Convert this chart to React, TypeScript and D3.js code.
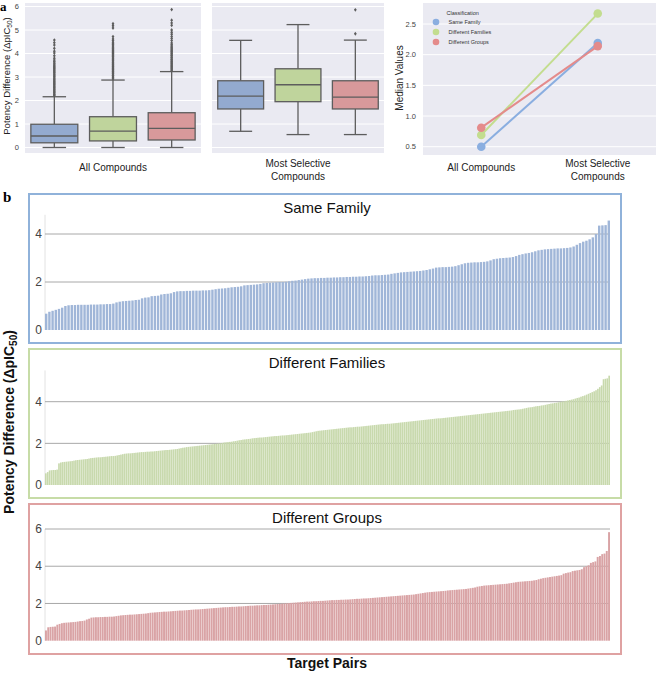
import React from 'react';
import * as d3 from 'd3';

const classes = ['Same Family', 'Different Families', 'Different Groups'];
const compoundSets = ['All Compounds', 'Most Selective Compounds'];

// [lower whisker, Q1, median, Q3, upper whisker]
const statsAllSame = [0, 0.2, 0.49, 0.99, 2.16];
const statsAllFamilies = [0, 0.28, 0.7, 1.31, 2.87];
const statsAllGroups = [0, 0.32, 0.81, 1.48, 3.23];
const statsSelSame = [0.69, 1.64, 2.19, 2.84, 4.56];
const statsSelFamilies = [0.55, 1.95, 2.67, 3.35, 5.23];
const statsSelGroups = [0.55, 1.64, 2.14, 2.84, 4.57];

const fliersAllSame = [2.2, 2.24, 2.28, 2.33, 2.37, 2.41, 2.46, 2.5, 2.55, 2.59, 2.63, 2.68, 2.72, 2.77, 2.81, 2.86, 2.9, 2.95, 3.0, 3.04, 3.09, 3.13, 3.18, 3.22, 3.27, 3.31, 3.36, 3.4, 3.45, 3.5, 3.55, 3.6, 3.66, 3.72, 3.8, 3.9, 4.02, 4.1, 4.22, 4.36, 4.46, 4.57];
const fliersAllFamilies = [2.92, 2.96, 3.0, 3.05, 3.09, 3.14, 3.18, 3.23, 3.27, 3.32, 3.36, 3.41, 3.45, 3.5, 3.54, 3.59, 3.63, 3.68, 3.72, 3.77, 3.81, 3.86, 3.9, 3.95, 4.0, 4.04, 4.09, 4.13, 4.18, 4.22, 4.27, 4.32, 4.37, 4.42, 4.48, 4.55, 4.62, 4.72, 5.08, 5.18, 5.27];
const fliersAllGroups = [3.27, 3.31, 3.36, 3.4, 3.45, 3.49, 3.54, 3.58, 3.63, 3.67, 3.72, 3.76, 3.81, 3.85, 3.9, 3.94, 3.99, 4.03, 4.08, 4.12, 4.17, 4.22, 4.27, 4.32, 4.38, 4.45, 4.55, 4.64, 4.72, 4.82, 4.9, 5.0, 5.2, 5.3, 5.42, 5.87];
const fliersSelSame: number[] = [];
const fliersSelFamilies: number[] = [];
const fliersSelGroups = [4.84, 5.86];

const medianAll = [0.5, 0.69, 0.81];
const medianSelective = [2.19, 2.67, 2.14];

const boxTicks = [0, 1, 2, 3, 4, 5, 6];
const medianTicks = [0.5, 1.0, 1.5, 2.0, 2.5];

const sameFamily = [
  0.68, 0.76, 0.8, 0.84, 0.88, 0.93, 1.0,
  1.03, 1.04, 1.04, 1.05, 1.05, 1.05, 1.05, 1.06, 1.06, 1.06, 1.07, 1.07, 1.08, 1.08, 1.1,
  1.15, 1.18,
  1.2, 1.21, 1.22, 1.23, 1.25, 1.26,
  1.32, 1.35, 1.36,
  1.41, 1.42, 1.43,
  1.48, 1.5, 1.51, 1.53,
  1.58, 1.61, 1.62, 1.62, 1.63, 1.63, 1.64, 1.64, 1.64, 1.65, 1.65, 1.66,
  1.68, 1.7,
  1.72, 1.73, 1.74, 1.76,
  1.78, 1.79, 1.8, 1.82,
  1.86, 1.87, 1.88, 1.89, 1.9, 1.92,
  1.95, 1.96, 1.97, 1.98, 1.99, 2.0, 2.0, 2.01,
  2.03, 2.05, 2.06,
  2.08, 2.1, 2.12,
  2.14, 2.15, 2.16, 2.16, 2.17, 2.17, 2.18,
  2.18, 2.19, 2.19, 2.2, 2.2, 2.21, 2.21, 2.22, 2.22, 2.23, 2.23, 2.24, 2.25,
  2.27, 2.28, 2.28, 2.29, 2.3, 2.31,
  2.34, 2.36, 2.38, 2.4, 2.41, 2.42, 2.43, 2.44, 2.45, 2.46, 2.48, 2.5,
  2.53, 2.56,
  2.6, 2.61, 2.62, 2.62, 2.63, 2.64, 2.66, 2.7, 2.74,
  2.78, 2.8, 2.81, 2.82, 2.82, 2.83, 2.84, 2.86, 2.9,
  2.95, 2.97, 2.99, 3.0, 3.01, 3.02, 3.04, 3.08,
  3.13, 3.16, 3.19, 3.21, 3.24, 3.28,
  3.32, 3.34, 3.36, 3.37, 3.38, 3.39, 3.4, 3.4, 3.41, 3.42, 3.44, 3.48,
  3.55, 3.62, 3.68, 3.72, 3.78, 3.86,
  4.0,
  4.35, 4.36, 4.37,
  4.56,
];

const differentFamilies = [
  0.56, 0.62,
  0.7, 0.71, 0.72, 0.72, 0.74,
  1.04, 1.08, 1.1, 1.11, 1.12, 1.13, 1.14, 1.15, 1.17,
  1.19, 1.2, 1.21, 1.22, 1.23, 1.24, 1.25, 1.27,
  1.29, 1.3, 1.31, 1.32, 1.33, 1.33, 1.34, 1.35,
  1.36, 1.37, 1.38, 1.39, 1.39, 1.4, 1.42,
  1.44, 1.46, 1.48, 1.5, 1.51, 1.52, 1.52, 1.53, 1.54, 1.55, 1.56, 1.57,
  1.58, 1.58, 1.59, 1.6, 1.6, 1.61, 1.61, 1.62, 1.63, 1.64, 1.65,
  1.66, 1.67, 1.68, 1.68, 1.69, 1.7, 1.71, 1.72, 1.73, 1.75, 1.77,
  1.79, 1.8, 1.82, 1.83, 1.84, 1.85, 1.86, 1.87, 1.88, 1.89, 1.9,
  1.91, 1.92, 1.93, 1.94, 1.95, 1.96, 1.97, 1.98, 1.99, 2.0, 2.02,
  2.04, 2.05, 2.06, 2.07, 2.08, 2.1, 2.11, 2.13,
  2.15, 2.16, 2.18, 2.19, 2.2, 2.21, 2.22, 2.24,
  2.25, 2.26, 2.27, 2.28, 2.28, 2.29, 2.3, 2.31,
  2.32, 2.33, 2.34, 2.35, 2.35, 2.36, 2.37, 2.38, 2.38, 2.39, 2.4, 2.41, 2.42,
  2.43, 2.44, 2.45, 2.46, 2.47, 2.48, 2.49, 2.5, 2.51, 2.52, 2.54,
  2.56, 2.58, 2.6, 2.61, 2.62, 2.63, 2.64, 2.65, 2.66, 2.67, 2.68, 2.69, 2.7,
  2.71, 2.72, 2.73, 2.74, 2.75, 2.76, 2.77, 2.77, 2.78, 2.79, 2.8, 2.8, 2.81, 2.82, 2.83, 2.84, 2.85, 2.86, 2.87,
  2.88, 2.89, 2.9, 2.91, 2.92, 2.92, 2.93, 2.94, 2.94, 2.95, 2.96, 2.97, 2.98, 2.99, 3.0, 3.01,
  3.02, 3.03, 3.04, 3.05, 3.06, 3.07, 3.08, 3.09, 3.1, 3.11, 3.12, 3.13, 3.14, 3.15, 3.16, 3.17,
  3.18, 3.19, 3.2, 3.2, 3.21, 3.22, 3.23, 3.24, 3.25, 3.26, 3.27, 3.28, 3.29, 3.3, 3.31, 3.32,
  3.33, 3.34, 3.35, 3.36, 3.37, 3.38, 3.39, 3.4, 3.41, 3.42, 3.43, 3.44, 3.45, 3.46, 3.47, 3.48,
  3.49, 3.5, 3.51, 3.52, 3.53, 3.54, 3.55, 3.56, 3.57, 3.58, 3.6, 3.61, 3.62, 3.63, 3.64, 3.66,
  3.68, 3.7, 3.72, 3.73, 3.74, 3.76, 3.78, 3.79, 3.8, 3.82, 3.83, 3.85, 3.87,
  3.89, 3.91, 3.92, 3.94, 3.95, 3.97, 3.99, 4.01,
  4.02, 4.04, 4.06, 4.08, 4.1, 4.12, 4.15, 4.18,
  4.2, 4.24, 4.27, 4.3, 4.34,
  4.38, 4.42, 4.46, 4.5, 4.55,
  4.62, 4.7, 4.78,
  5.08, 5.1, 5.12,
  5.25,
];

const differentGroups = [
  0.55,
  0.72, 0.74, 0.75, 0.76,
  0.86, 0.9,
  0.94, 0.96, 0.97, 0.98, 0.99, 1.0, 1.01,
  1.03, 1.05, 1.06, 1.08,
  1.14, 1.18,
  1.24, 1.25, 1.26, 1.26, 1.27, 1.27, 1.28, 1.28, 1.29, 1.29, 1.3,
  1.32, 1.34,
  1.36, 1.37, 1.38, 1.39, 1.4, 1.4, 1.41, 1.42, 1.43, 1.44, 1.45, 1.46, 1.48,
  1.5, 1.51, 1.52, 1.53, 1.54, 1.55, 1.56, 1.56, 1.57,
  1.58, 1.59, 1.6, 1.61, 1.62, 1.62, 1.63,
  1.64, 1.65, 1.66, 1.67, 1.68, 1.68, 1.69, 1.7, 1.71, 1.72, 1.73, 1.74, 1.75, 1.76, 1.77,
  1.78, 1.79, 1.8, 1.8, 1.81, 1.82, 1.82, 1.83, 1.84, 1.84, 1.85, 1.86, 1.87,
  1.88, 1.88, 1.89, 1.9, 1.9, 1.91, 1.92, 1.92, 1.93,
  1.94, 1.95, 1.96, 1.97, 1.98, 1.99, 2.0, 2.01, 2.02, 2.03, 2.04, 2.05, 2.06,
  2.07, 2.08, 2.09, 2.1, 2.1, 2.11, 2.12, 2.12, 2.13, 2.14, 2.14, 2.15, 2.16,
  2.17, 2.18, 2.18, 2.19, 2.19, 2.2, 2.2, 2.21, 2.21, 2.22, 2.23,
  2.24, 2.25, 2.25, 2.26, 2.27, 2.27, 2.28, 2.29, 2.3, 2.31, 2.32, 2.33, 2.34, 2.35, 2.36, 2.37,
  2.38, 2.39, 2.4, 2.41, 2.42, 2.43, 2.44, 2.45, 2.46, 2.47, 2.48, 2.5, 2.52, 2.54, 2.56, 2.58,
  2.6, 2.61, 2.62, 2.63, 2.64, 2.65, 2.66, 2.67, 2.68,
  2.7, 2.71, 2.72, 2.73, 2.74, 2.75, 2.76, 2.77, 2.78, 2.8, 2.82, 2.84, 2.86,
  2.9, 2.92, 2.94, 2.96, 2.97, 2.98, 2.99, 3.0, 3.01, 3.02, 3.03, 3.04, 3.05, 3.06, 3.08, 3.1,
  3.12, 3.14, 3.16, 3.17, 3.18, 3.19, 3.2, 3.21, 3.22, 3.24, 3.26,
  3.3, 3.33, 3.36, 3.38, 3.4, 3.42, 3.44, 3.46, 3.48, 3.5, 3.52,
  3.6, 3.63, 3.66, 3.68,
  3.74, 3.76, 3.78, 3.8, 3.84,
  3.95, 4.0, 4.05,
  4.18, 4.22, 4.26,
  4.5, 4.55,
  4.65, 4.68,
  4.82,
  5.83,
];

const groupTicksLow = [0, 2, 4];
const groupTicksHigh = [0, 2, 4, 6];

// styles
const boxFill = ['#93aacf', '#bfd49c', '#d8999b'];
const pointColor = ['#8aaee0', '#c3dd8f', '#e48b8b'];
const barFill = ['#a0b6d8', '#c8d9ad', '#d9a3a5'];
const barPad = [0.25, 0.12, 0.15];
const borderColor = ['#90b2da', '#c7dca7', '#dfa2a2'];
const darkBg = '#eaeaf2';
const boxLine = '#5d5d5d';
const sansFont = 'Arial, "Liberation Sans", Helvetica, sans-serif';
const serifFont = '"Times New Roman", "Liberation Serif", serif';

type BoxProps = { cx: number; w: number; s: number[]; fliers: number[]; fill: string; y: d3.ScaleLinear<number, number> };

function BoxGlyph({ cx, w, s, fliers, fill, y }: BoxProps) {
  const [lo, q1, md, q3, hi] = s;
  const cap = w * 0.5;
  const diamond = (yy: number) => `M${cx},${yy - 1.9}L${cx + 1.4},${yy}L${cx},${yy + 1.9}L${cx - 1.4},${yy}Z`;
  return (
    <g>
      <line x1={cx} x2={cx} y1={y(q3)} y2={y(hi)} stroke={boxLine} strokeWidth={1.3} />
      <line x1={cx} x2={cx} y1={y(q1)} y2={y(lo)} stroke={boxLine} strokeWidth={1.3} />
      <line x1={cx - cap / 2} x2={cx + cap / 2} y1={y(hi)} y2={y(hi)} stroke={boxLine} strokeWidth={1.3} />
      <line x1={cx - cap / 2} x2={cx + cap / 2} y1={y(lo)} y2={y(lo)} stroke={boxLine} strokeWidth={1.3} />
      <rect x={cx - w / 2} y={y(q3)} width={w} height={y(q1) - y(q3)} fill={fill} stroke={boxLine} strokeWidth={1.3} />
      <line x1={cx - w / 2} x2={cx + w / 2} y1={y(md)} y2={y(md)} stroke={boxLine} strokeWidth={1.3} />
      {fliers.map((f, i) => (
        <path key={i} d={diamond(y(f))} fill={boxLine} />
      ))}
    </g>
  );
}

export default function App() {
  // ---- part a ----
  const aTop = 3, aBottom = 153;
  const yBox = d3.scaleLinear().domain([0, 6]).range([147.5, 6.5]);
  const xAll = d3.scaleBand<string>().domain(classes).range([25, 201]);
  const xSel = d3.scaleBand<string>().domain(classes).range([212, 384]);
  const statsAll = [statsAllSame, statsAllFamilies, statsAllGroups];
  const statsSel = [statsSelSame, statsSelFamilies, statsSelGroups];
  const fliersAll = [fliersAllSame, fliersAllFamilies, fliersAllGroups];
  const fliersSel = [fliersSelSame, fliersSelFamilies, fliersSelGroups];

  const xMed = d3.scalePoint<string>().domain(compoundSets).range([423, 656]).padding(0.5);
  const yMed = d3.scaleLinear().domain([0.5, 2.5]).range([146.7, 24]);
  const medians = classes.map((c, i) => [medianAll[i], medianSelective[i]]);

  // ---- part b ----
  const panels = [
    { title: 'Same Family', data: sameFamily, top: 194, bottom: 343, titleY: 213, y: d3.scaleLinear().domain([0, 4]).range([330, 234]), ticks: groupTicksLow, axisTop: 4.8 },
    { title: 'Different Families', data: differentFamilies, top: 349, bottom: 498, titleY: 368, y: d3.scaleLinear().domain([0, 4]).range([485, 401.7]), ticks: groupTicksLow, axisTop: 5.5 },
    { title: 'Different Groups', data: differentGroups, top: 504, bottom: 654, titleY: 523, y: d3.scaleLinear().domain([0, 6]).range([640.7, 529]), ticks: groupTicksHigh, axisTop: 6 },
  ];
  const barLeft = 45, barRight = 610;

  return (
    <svg width={656} height={674} style={{ position: 'absolute', left: 0, top: 0, background: '#fff' }} fontFamily={sansFont}>
      {/* label a */}
      <text x={0} y={11} fontFamily={serifFont} fontWeight="bold" fontSize={13}>a</text>

      {/* panel 1 & 2 backgrounds */}
      {[xAll, xSel].map((xs, pi) => {
        const [x0, x1] = xs.range();
        return (
          <g key={pi}>
            <rect x={x0} y={aTop} width={x1 - x0} height={aBottom - aTop} fill={darkBg} />
            {boxTicks.map(t => (
              <line key={t} x1={x0} x2={x1} y1={yBox(t)} y2={yBox(t)} stroke="#fff" strokeWidth={1} />
            ))}
            {classes.map((c, i) => (
              <BoxGlyph key={c} cx={xs(c)! + xs.bandwidth() / 2} w={xs.bandwidth() * 0.8}
                s={pi === 0 ? statsAll[i] : statsSel[i]} fliers={pi === 0 ? fliersAll[i] : fliersSel[i]}
                fill={boxFill[i]} y={yBox} />
            ))}
          </g>
        );
      })}
      {boxTicks.map(t => (
        <text key={t} x={19} y={yBox(t) + 2.7} fontSize={7.5} fill="#444" textAnchor="end">{t}</text>
      ))}
      <text transform={`translate(9.5, 76) rotate(-90)`} textAnchor="middle" fontSize={9.5} fill="#222">
        Potency Difference (ΔpIC<tspan fontSize={6.5} dy={2.5}>50</tspan><tspan dy={-2.5}>)</tspan>
      </text>
      <text x={113} y={171} fontSize={10} textAnchor="middle" fill="#222">All Compounds</text>
      <text x={298} y={167} fontSize={10} textAnchor="middle" fill="#222">Most Selective</text>
      <text x={298} y={180} fontSize={10} textAnchor="middle" fill="#222">Compounds</text>

      {/* panel 3 - median point plot */}
      <rect x={423} y={aTop} width={656 - 423} height={155 - aTop} fill={darkBg} />
      {medianTicks.map(t => (
        <g key={t}>
          <line x1={423} x2={656} y1={yMed(t)} y2={yMed(t)} stroke="#fff" strokeWidth={1} />
          <text x={416} y={yMed(t) + 2.7} fontSize={7.5} fill="#444" textAnchor="end">{t.toFixed(1)}</text>
        </g>
      ))}
      <text transform={`translate(403, 78) rotate(-90)`} textAnchor="middle" fontSize={10} fill="#222">Median Values</text>
      {medians.map((m, i) => (
        <g key={i}>
          <line x1={xMed(compoundSets[0])} x2={xMed(compoundSets[1])} y1={yMed(m[0])} y2={yMed(m[1])} stroke={pointColor[i]} strokeWidth={2} />
          {m.map((v, j) => (
            <circle key={j} cx={xMed(compoundSets[j])} cy={yMed(v)} r={4.3} fill={pointColor[i]} />
          ))}
        </g>
      ))}
      <text x={xMed(compoundSets[0])} y={171} fontSize={10} textAnchor="middle" fill="#222">All Compounds</text>
      <text x={xMed(compoundSets[1])} y={167} fontSize={10} textAnchor="middle" fill="#222">Most Selective</text>
      <text x={xMed(compoundSets[1])} y={180} fontSize={10} textAnchor="middle" fill="#222">Compounds</text>
      {/* legend */}
      <text x={446.5} y={15} fontSize={5.5} fill="#333">Classification</text>
      {classes.map((c, i) => (
        <g key={c}>
          <circle cx={436} cy={22 + i * 10} r={3.3} fill={pointColor[i]} />
          <text x={448.5} y={24 + i * 10} fontSize={5.5} fill="#333">{c}</text>
        </g>
      ))}

      {/* label b */}
      <text x={3} y={202} fontFamily={serifFont} fontWeight="bold" fontSize={15}>b</text>

      {panels.map((p, pi) => {
        const xb = d3.scaleBand<number>().domain(d3.range(p.data.length)).range([barLeft, barRight]).paddingInner(barPad[pi]);
        return (
          <g key={p.title}>
            <rect x={29} y={p.top} width={621 - 29} height={p.bottom - p.top} fill="#fff" stroke={borderColor[pi]} strokeWidth={2} />
            <line x1={barLeft} x2={barLeft} y1={p.y(p.axisTop)} y2={p.y(0)} stroke="#e2e2e2" strokeWidth={1} />
            {p.ticks.filter(t => t > 0).map(t => (
              <line key={t} x1={barLeft} x2={barRight} y1={p.y(t)} y2={p.y(t)} stroke="#a8a8a8" strokeWidth={1} />
            ))}
            {p.data.map((v, i) => (
              <rect key={i} x={xb(i)} y={p.y(v)} width={xb.bandwidth()} height={p.y(0) - p.y(v)} fill={barFill[pi]} />
            ))}
            {p.ticks.map(t => (
              <text key={t} x={42} y={p.y(t) + 4.2} fontSize={12} fill="#444" textAnchor="end">{t}</text>
            ))}
            <text x={327} y={p.titleY} fontSize={15} textAnchor="middle" fill="#111">{p.title}</text>
          </g>
        );
      })}

      <text transform={`translate(14, 422) rotate(-90)`} textAnchor="middle" fontSize={14} fontWeight="bold" fill="#111">
        Potency Difference (ΔpIC<tspan fontSize={10} dy={3}>50</tspan><tspan dy={-3}>)</tspan>
      </text>
      <text x={327} y={668} fontSize={14} fontWeight="bold" textAnchor="middle" fill="#111">Target Pairs</text>
    </svg>
  );
}
